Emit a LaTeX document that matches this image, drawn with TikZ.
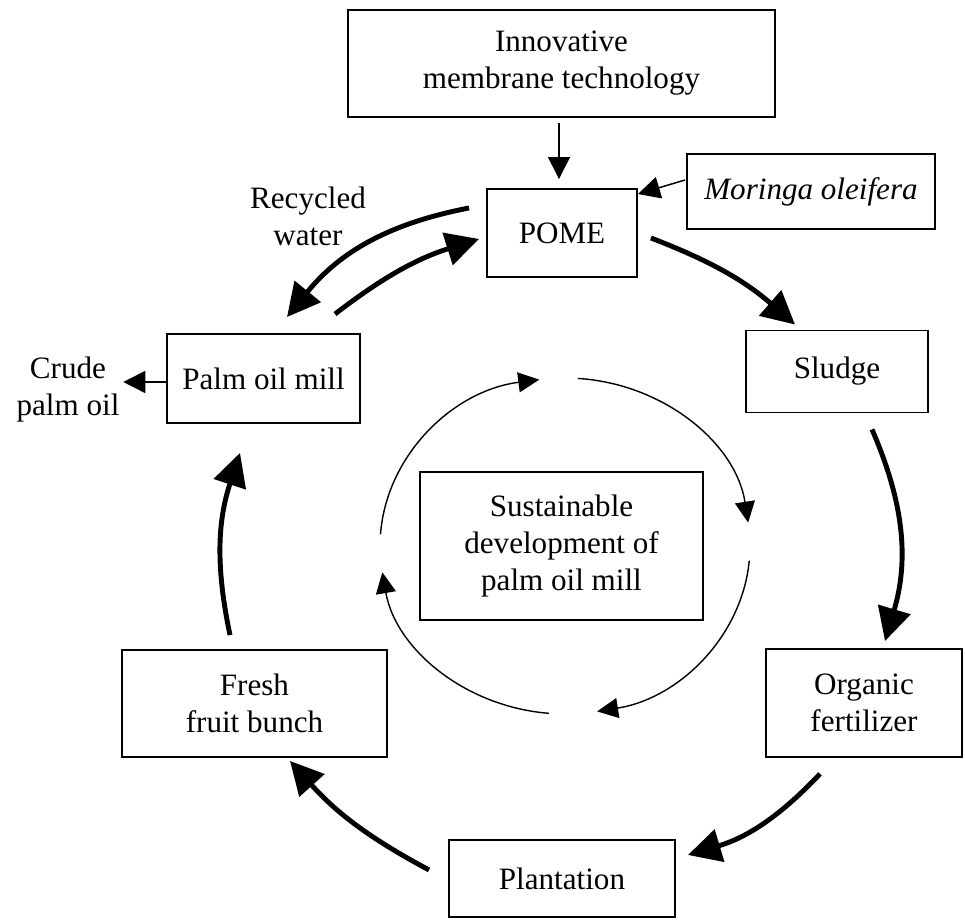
\documentclass[tikz,border=0pt]{standalone}
\usepackage{fontspec}
\setmainfont{Liberation Serif}
\usepackage{xcolor}
\usepackage{tikz}
\usetikzlibrary{calc,arrows.meta}

\begin{document}
\begin{tikzpicture}[x=0.02cm,y=0.02cm,
  box/.style={draw,line width=1.1pt,align=center,inner sep=0pt,font=\fontsize{17.7}{21}\selectfont},
  word/.style={align=center,inner sep=2pt,font=\fontsize{17.7}{21}\selectfont},
  thinarrow/.style={line width=0.85pt,-{Triangle[length=0.44cm,width=0.44cm]}},
  thickarrow/.style={line width=2.8pt,-{Triangle[length=0.66cm,width=0.66cm]}},
  looparrow/.style={line width=0.8pt,-{Triangle[length=0.42cm,width=0.4cm]}}]
\useasboundingbox (0,0) rectangle (965,922);

\node[box,minimum width=8.54cm,minimum height=2.14cm] (tech) at (561.5,858.5) {Innovative\\membrane technology};
\node[box,minimum width=4.96cm,minimum height=1.5cm] (moringa) at (811,730.5) {\itshape Moringa oleifera};
\node[box,minimum width=3cm,minimum height=1.76cm] (pome) at (562,689) {POME};
\node[box,minimum width=3.64cm,minimum height=1.64cm] (sludge) at (837,550.5) {Sludge};
\node[box,minimum width=3.86cm,minimum height=1.78cm] (mill) at (263.5,543.5) {Palm oil mill};
\node[box,minimum width=5.66cm,minimum height=2.96cm] (sust) at (561.5,376) {Sustainable\\development of\\palm oil mill};
\node[box,minimum width=3.92cm,minimum height=2.16cm] (fert) at (864,219) {Organic\\fertilizer};
\node[box,minimum width=5.3cm,minimum height=2.14cm] (ffb) at (254.5,218.5) {Fresh\\fruit bunch};
\node[box,minimum width=4.52cm,minimum height=1.54cm] (plant) at (562,43.5) {Plantation};
\node[word] (crude) at (68,532.5) {Crude\\palm oil};
\node[word] (recycled) at (308,706) {Recycled\\water};
\coordinate (cyc) at (565,376);
\coordinate (millout) at ([shift={(0,-3.5)}]mill.west);

\draw[thinarrow] ([shift={(-2.5,-5)}]tech.south) -- ([shift={(-3,9)}]pome.north);
\draw[thinarrow] ([shift={(-1,11.5)}]moringa.west) -- ([shift={(0,-6)}]pome.north east);
\draw[thinarrow] (millout) -- (crude.east |- millout);

\draw[thickarrow] ([shift={(-17,25)}]pome.west) to[bend right=20] ([shift={(23.5,16)}]mill.north);
\draw[thickarrow] ([shift={(71.5,19)}]mill.north) to[bend left=10] ([shift={(-7,-6)}]pome.west);
\draw[thickarrow] ([shift={(13,-5)}]pome.east) to[bend left=10] ([shift={(-42,5)}]sludge.north);
\draw[thickarrow] ([shift={(35,-16)}]sludge.south) to[bend left=20] ([shift={(21,7)}]fert.north);
\draw[thickarrow] ([shift={(-44,-16)}]fert.south) to[bend left=15] ([shift={(12,23.5)}]plant.east);
\draw[thickarrow] ([shift={(-19,8.5)}]plant.west) to[bend left=10] ([shift={(35.5,-3)}]ffb.south);
\draw[thickarrow] ([shift={(-24.5,14)}]ffb.north) to[bend left=15] ([shift={(-23.5,-29)}]mill.south);

\draw[looparrow] ([shift={(176:3.7cm and 3.36cm)}]cyc) arc[start angle=176,end angle=98,x radius=3.7cm,y radius=3.36cm];
\draw[looparrow] ([shift={(86:3.7cm and 3.36cm)}]cyc) arc[start angle=86,end angle=8,x radius=3.7cm,y radius=3.36cm];
\draw[looparrow] ([shift={(-5:3.7cm and 3.36cm)}]cyc) arc[start angle=-5,end angle=-80,x radius=3.7cm,y radius=3.36cm];
\draw[looparrow] ([shift={(-95:3.7cm and 3.36cm)}]cyc) arc[start angle=-95,end angle=-171,x radius=3.7cm,y radius=3.36cm];
\end{tikzpicture}
\end{document}
